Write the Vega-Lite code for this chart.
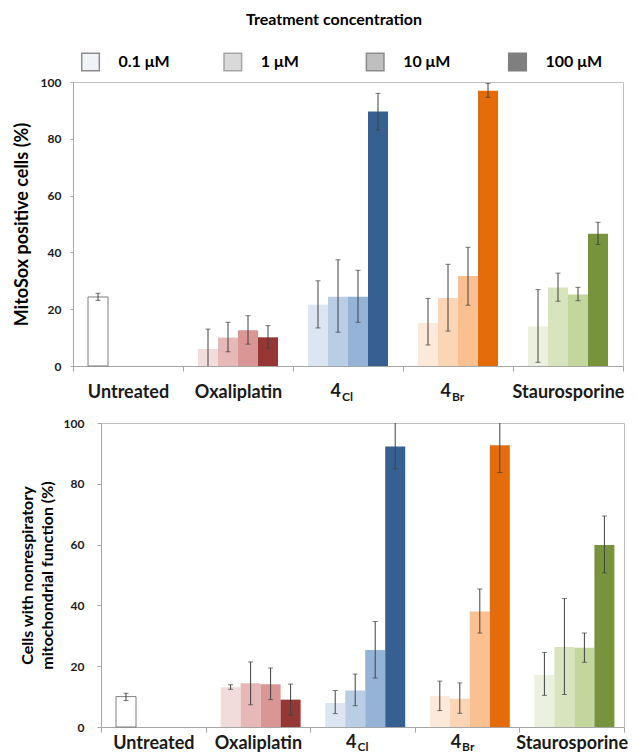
{
  "$schema": "https://vega.github.io/schema/vega-lite/v6.json",
  "padding": {"left": 12, "top": 12, "right": 0, "bottom": 0},
  "background": "white",
  "config": {
    "font": "Lato",
    "view": {"stroke": "#c0c0c0"},
    "axis": {"grid": false, "domainColor": "#a6a6a6", "tickColor": "#a6a6a6", "labelColor": "#1a1a1a", "titleColor": "#000000", "labelFontWeight": "bold", "titleFontWeight": "bold"}
  },
  "datasets": {
    "mitosox": [
      {"group": "Untreated", "conc": "0.1", "series": "Untreated", "value": 24.3, "lo": 23.1, "hi": 25.6},
      {"group": "Oxaliplatin", "conc": "0.1", "series": "Oxaliplatin 0.1", "value": 6.0, "lo": -1.0, "hi": 13.0},
      {"group": "Oxaliplatin", "conc": "1", "series": "Oxaliplatin 1", "value": 10.0, "lo": 5.0, "hi": 15.4},
      {"group": "Oxaliplatin", "conc": "10", "series": "Oxaliplatin 10", "value": 12.6, "lo": 7.7, "hi": 17.7},
      {"group": "Oxaliplatin", "conc": "100", "series": "Oxaliplatin 100", "value": 10.1, "lo": 6.2, "hi": 14.2},
      {"group": "4Cl", "conc": "0.1", "series": "4Cl 0.1", "value": 21.6, "lo": 13.4, "hi": 30.0},
      {"group": "4Cl", "conc": "1", "series": "4Cl 1", "value": 24.4, "lo": 11.9, "hi": 37.4},
      {"group": "4Cl", "conc": "10", "series": "4Cl 10", "value": 24.4, "lo": 15.4, "hi": 33.7},
      {"group": "4Cl", "conc": "100", "series": "4Cl 100", "value": 89.6, "lo": 83.1, "hi": 96.0},
      {"group": "4Br", "conc": "0.1", "series": "4Br 0.1", "value": 15.2, "lo": 7.4, "hi": 23.8},
      {"group": "4Br", "conc": "1", "series": "4Br 1", "value": 23.9, "lo": 12.3, "hi": 35.8},
      {"group": "4Br", "conc": "10", "series": "4Br 10", "value": 31.7, "lo": 21.4, "hi": 41.8},
      {"group": "4Br", "conc": "100", "series": "4Br 100", "value": 96.9, "lo": 94.6, "hi": 99.5},
      {"group": "Staurosporine", "conc": "0.1", "series": "Staurosporine 0.1", "value": 13.9, "lo": 1.3, "hi": 26.9},
      {"group": "Staurosporine", "conc": "1", "series": "Staurosporine 1", "value": 27.6, "lo": 22.8, "hi": 32.7},
      {"group": "Staurosporine", "conc": "10", "series": "Staurosporine 10", "value": 25.2, "lo": 23.0, "hi": 27.7},
      {"group": "Staurosporine", "conc": "100", "series": "Staurosporine 100", "value": 46.6, "lo": 42.8, "hi": 50.6}
    ],
    "nonresp": [
      {"group": "Untreated", "conc": "0.1", "series": "Untreated", "value": 10.0, "lo": 8.7, "hi": 11.1},
      {"group": "Oxaliplatin", "conc": "0.1", "series": "Oxaliplatin 0.1", "value": 13.1, "lo": 12.4, "hi": 13.9},
      {"group": "Oxaliplatin", "conc": "1", "series": "Oxaliplatin 1", "value": 14.4, "lo": 7.3, "hi": 21.4},
      {"group": "Oxaliplatin", "conc": "10", "series": "Oxaliplatin 10", "value": 14.1, "lo": 9.0, "hi": 19.4},
      {"group": "Oxaliplatin", "conc": "100", "series": "Oxaliplatin 100", "value": 9.0, "lo": 3.9, "hi": 14.1},
      {"group": "4Cl", "conc": "0.1", "series": "4Cl 0.1", "value": 7.9, "lo": 4.4, "hi": 12.0},
      {"group": "4Cl", "conc": "1", "series": "4Cl 1", "value": 12.0, "lo": 7.0, "hi": 17.4},
      {"group": "4Cl", "conc": "10", "series": "4Cl 10", "value": 25.3, "lo": 16.1, "hi": 34.7},
      {"group": "4Cl", "conc": "100", "series": "4Cl 100", "value": 92.3, "lo": 84.9, "hi": 100.6},
      {"group": "4Br", "conc": "0.1", "series": "4Br 0.1", "value": 10.2, "lo": 5.4, "hi": 15.1},
      {"group": "4Br", "conc": "1", "series": "4Br 1", "value": 9.3, "lo": 4.5, "hi": 14.5},
      {"group": "4Br", "conc": "10", "series": "4Br 10", "value": 38.0, "lo": 30.9, "hi": 45.4},
      {"group": "4Br", "conc": "100", "series": "4Br 100", "value": 92.7, "lo": 83.7, "hi": 101.7},
      {"group": "Staurosporine", "conc": "0.1", "series": "Staurosporine 0.1", "value": 17.1, "lo": 10.4, "hi": 24.5},
      {"group": "Staurosporine", "conc": "1", "series": "Staurosporine 1", "value": 26.3, "lo": 10.7, "hi": 42.3},
      {"group": "Staurosporine", "conc": "10", "series": "Staurosporine 10", "value": 26.1, "lo": 21.3, "hi": 30.9},
      {"group": "Staurosporine", "conc": "100", "series": "Staurosporine 100", "value": 59.9, "lo": 50.7, "hi": 69.4}
    ],
    "subs": [
      {"group": "4Cl", "main": "4", "sub": "Cl"},
      {"group": "4Br", "main": "4", "sub": "Br"}
    ],
    "legend": [
      {"conc": "0.1", "label": "0.1 μM"},
      {"conc": "1", "label": "1 μM"},
      {"conc": "10", "label": "10 μM"},
      {"conc": "100", "label": "100 μM"}
    ]
  },
  "concat": [
    {
      "width": 462,
      "height": 20,
      "view": {"stroke": null},
      "title": {"text": "Treatment concentration", "fontSize": 16, "fontWeight": "bold", "dx": 30, "offset": 22, "color": "#000000"},
      "data": {"name": "legend"},
      "layer": [
        {
          "mark": {"type": "point", "shape": "square", "size": 310, "filled": true, "strokeWidth": 1.5, "opacity": 1},
          "encoding": {
            "x": {"field": "conc", "type": "ordinal", "sort": ["0.1", "1", "10", "100"], "scale": {"type": "point", "padding": 0.123}, "axis": null},
            "fill": {"field": "conc", "type": "ordinal", "scale": {"domain": ["0.1", "1", "10", "100"], "range": ["#f0f3f7", "#d9d9d9", "#bfbfbf", "#7f7f7f"]}, "legend": null},
            "stroke": {"field": "conc", "type": "ordinal", "scale": {"domain": ["0.1", "1", "10", "100"], "range": ["#8c8c8c", "#a6a6a6", "#8c8c8c", "#7f7f7f"]}, "legend": null}
          }
        },
        {
          "mark": {"type": "text", "align": "left", "baseline": "middle", "dx": 28, "fontSize": 16, "fontWeight": "bold", "color": "#000000"},
          "encoding": {
            "x": {"field": "conc", "type": "ordinal", "sort": ["0.1", "1", "10", "100"]},
            "text": {"field": "label"}
          }
        }
      ]
    },
    {
      "width": 550,
      "height": 284,
      "data": {"name": "mitosox"},
      "layer": [
        {
          "mark": {"type": "bar"},
          "encoding": {
            "x": {"field": "group", "type": "nominal", "scale": {"domain": ["Untreated", "Oxaliplatin", "4Cl", "4Br", "Staurosporine"], "paddingInner": 0, "paddingOuter": 0},
              "axis": {"title": "\u00a0", "titleFontSize": 6, "titlePadding": 8, "labelAngle": 0, "labelFontSize": 18, "labelBaseline": "alphabetic", "labelPadding": 26, "tickSize": 5, "tickBand": "extent", "labelExpr": "datum.value == '4Cl' || datum.value == '4Br' ? '' : datum.value"}},
            "xOffset": {"field": "conc", "type": "nominal", "scale": {"domain": ["0.1", "1", "10", "100"], "paddingInner": 0, "paddingOuter": 0.75}},
            "y": {"field": "value", "type": "quantitative", "scale": {"domain": [0, 100], "nice": false},
              "axis": {"title": "MitoSox positive cells (%)", "values": [0, 20, 40, 60, 80, 100], "labelFontSize": 12, "tickSize": 3, "labelPadding": 9, "titleFontSize": 18, "titlePadding": 9}},
            "color": {"field": "series", "type": "nominal", "legend": null,
              "scale": {"domain": ["Untreated", "Oxaliplatin 0.1", "Oxaliplatin 1", "Oxaliplatin 10", "Oxaliplatin 100", "4Cl 0.1", "4Cl 1", "4Cl 10", "4Cl 100", "4Br 0.1", "4Br 1", "4Br 10", "4Br 100", "Staurosporine 0.1", "Staurosporine 1", "Staurosporine 10", "Staurosporine 100"],
                "range": ["#ffffff", "#f2dcdb", "#e6b9b8", "#d99694", "#953735", "#dce6f2", "#b9cde5", "#95b3d7", "#376092", "#fde9d9", "#fcd5b5", "#fac090", "#e46c0a", "#ebf1de", "#d7e4bd", "#c3d69b", "#77933c"]}},
            "stroke": {"condition": {"test": "datum.group == 'Untreated'", "value": "#7f7f7f"}, "value": "transparent"},
            "strokeWidth": {"value": 1}
          }
        },
        {
          "mark": {"type": "rule", "color": "#404040", "strokeWidth": 1, "clip": true},
          "encoding": {
            "x": {"field": "group", "type": "nominal"},
            "xOffset": {"field": "conc", "type": "nominal"},
            "y": {"field": "lo", "type": "quantitative"},
            "y2": {"field": "hi"}
          }
        },
        {
          "mark": {"type": "tick", "color": "#404040", "thickness": 1, "size": 5, "clip": true},
          "encoding": {
            "x": {"field": "group", "type": "nominal"},
            "xOffset": {"field": "conc", "type": "nominal"},
            "y": {"field": "hi", "type": "quantitative"}
          }
        },
        {
          "mark": {"type": "tick", "color": "#404040", "thickness": 1, "size": 5, "clip": true},
          "encoding": {
            "x": {"field": "group", "type": "nominal"},
            "xOffset": {"field": "conc", "type": "nominal"},
            "y": {"field": "lo", "type": "quantitative"}
          }
        },
        {
          "data": {"name": "subs"},
          "mark": {"type": "text", "align": "right", "baseline": "alphabetic", "dx": -7, "dy": 31, "fontSize": 18, "fontWeight": "bold", "color": "#1a1a1a"},
          "encoding": {
            "x": {"field": "group", "type": "nominal"},
            "y": {"datum": 0},
            "text": {"field": "main"}
          }
        },
        {
          "data": {"name": "subs"},
          "mark": {"type": "text", "align": "left", "baseline": "alphabetic", "dx": -6, "dy": 35, "fontSize": 12, "fontWeight": "bold", "color": "#1a1a1a"},
          "encoding": {
            "x": {"field": "group", "type": "nominal"},
            "y": {"datum": 0},
            "text": {"field": "sub"}
          }
        }
      ]
    },
    {
      "width": 551,
      "height": 304,
      "view": {"stroke": null},
      "data": {"name": "nonresp"},
      "resolve": {"axis": {"x": "independent", "y": "independent"}},
      "layer": [
        {
          "mark": {"type": "bar"},
          "encoding": {
            "x": {"field": "group", "type": "nominal", "scale": {"domain": ["Untreated", "Oxaliplatin", "4Cl", "4Br", "Staurosporine"], "range": [28, 551], "paddingInner": 0, "paddingOuter": 0},
              "axis": {"title": null, "labelAngle": 0, "labelFontSize": 18, "labelBaseline": "alphabetic", "labelPadding": 16, "tickSize": 5, "tickBand": "extent", "labelExpr": "datum.value == '4Cl' || datum.value == '4Br' ? '' : datum.value"}},
            "xOffset": {"field": "conc", "type": "nominal", "scale": {"domain": ["0.1", "1", "10", "100"], "paddingInner": 0, "paddingOuter": 0.75}},
            "y": {"field": "value", "type": "quantitative", "scale": {"domain": [0, 100], "nice": false},
              "axis": {"title": ["Cells with nonrespiratory", "mitochondrial function (%)"], "offset": -28, "titleLineHeight": 20, "values": [0, 20, 40, 60, 80, 100], "labelFontSize": 12, "tickSize": 4, "labelPadding": 13, "titleFontSize": 16, "titlePadding": 8}},
            "color": {"field": "series", "type": "nominal", "legend": null,
              "scale": {"domain": ["Untreated", "Oxaliplatin 0.1", "Oxaliplatin 1", "Oxaliplatin 10", "Oxaliplatin 100", "4Cl 0.1", "4Cl 1", "4Cl 10", "4Cl 100", "4Br 0.1", "4Br 1", "4Br 10", "4Br 100", "Staurosporine 0.1", "Staurosporine 1", "Staurosporine 10", "Staurosporine 100"],
                "range": ["#ffffff", "#f2dcdb", "#e6b9b8", "#d99694", "#953735", "#dce6f2", "#b9cde5", "#95b3d7", "#376092", "#fde9d9", "#fcd5b5", "#fac090", "#e46c0a", "#ebf1de", "#d7e4bd", "#c3d69b", "#77933c"]}},
            "stroke": {"condition": {"test": "datum.group == 'Untreated'", "value": "#7f7f7f"}, "value": "transparent"},
            "strokeWidth": {"value": 1}
          }
        },
        {
          "mark": {"type": "rule", "color": "#404040", "strokeWidth": 1, "clip": true},
          "encoding": {
            "x": {"field": "group", "type": "nominal", "axis": {"orient": "top", "labels": false, "ticks": false, "title": null, "domainColor": "#c0c0c0"}},
            "xOffset": {"field": "conc", "type": "nominal"},
            "y": {"field": "lo", "type": "quantitative", "axis": {"orient": "right", "labels": false, "ticks": false, "title": null, "domainColor": "#c0c0c0"}},
            "y2": {"field": "hi"}
          }
        },
        {
          "mark": {"type": "tick", "color": "#404040", "thickness": 1, "size": 5, "clip": true},
          "encoding": {
            "x": {"field": "group", "type": "nominal", "axis": null},
            "xOffset": {"field": "conc", "type": "nominal"},
            "y": {"field": "hi", "type": "quantitative", "axis": null}
          }
        },
        {
          "mark": {"type": "tick", "color": "#404040", "thickness": 1, "size": 5, "clip": true},
          "encoding": {
            "x": {"field": "group", "type": "nominal", "axis": null},
            "xOffset": {"field": "conc", "type": "nominal"},
            "y": {"field": "lo", "type": "quantitative", "axis": null}
          }
        },
        {
          "data": {"name": "subs"},
          "mark": {"type": "text", "align": "right", "baseline": "alphabetic", "dx": -6, "dy": 21, "fontSize": 18, "fontWeight": "bold", "color": "#1a1a1a"},
          "encoding": {
            "x": {"field": "group", "type": "nominal", "axis": null},
            "y": {"datum": 0, "axis": null},
            "text": {"field": "main"}
          }
        },
        {
          "data": {"name": "subs"},
          "mark": {"type": "text", "align": "left", "baseline": "alphabetic", "dx": -5, "dy": 24, "fontSize": 12, "fontWeight": "bold", "color": "#1a1a1a"},
          "encoding": {
            "x": {"field": "group", "type": "nominal", "axis": null},
            "y": {"datum": 0, "axis": null},
            "text": {"field": "sub"}
          }
        }
      ]
    }
  ],
  "columns": 1,
  "spacing": 1
}
